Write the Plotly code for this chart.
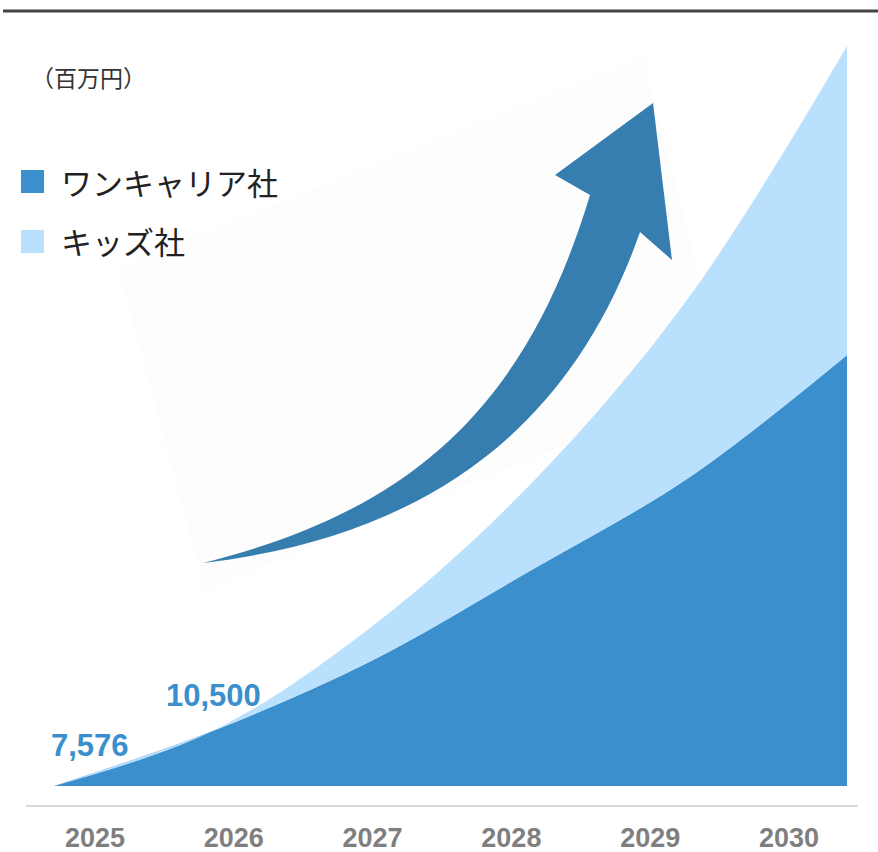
import plotly.graph_objects as go

# ---------------- data ----------------
years = ["2025", "2026", "2027", "2028", "2029", "2030"]
series_names = ["ワンキャリア社", "キッズ社"]
onecareer = [0, 550, 1250, 2150, 3080, 4310]      # lower (dark) area
kids = [0, 0, 340, 860, 1800, 3090]               # stacked (light) area
value_labels = ["7,576", "10,500"]                # labels for first two years
unit_label = "（百万円）"

DARK = "#3b8fcc"
LIGHT = "#b9e0fd"
ARROW = "#367db0"

W, H = 878, 852
ML, MR, MT, MB = 54, 31, 46, 66
PW, PH = W - ML - MR, H - MT - MB


def px(x, y):
    """pixel -> paper coordinates (for decorative shapes only)"""
    return (x - ML) / PW, (H - MB - y) / PH


def P(x, y):
    a = px(x, y)
    return f"{a[0]:.4f},{a[1]:.4f}"


idx = list(range(len(years)))

fig = go.Figure()
fig.add_trace(go.Scatter(
    x=idx, y=onecareer, name=series_names[0], stackgroup="one",
    mode="lines", line=dict(width=0, shape="spline", smoothing=1.0),
    fillcolor=DARK, hoverinfo="skip", showlegend=False))
fig.add_trace(go.Scatter(
    x=idx, y=kids, name=series_names[1], stackgroup="one",
    mode="lines", line=dict(width=0, shape="spline", smoothing=1.0),
    fillcolor=LIGHT, hoverinfo="skip", showlegend=False))
# carrier trace for the year axis
fig.add_trace(go.Scatter(
    x=years, y=[0] * len(years), xaxis="x2", mode="markers",
    marker=dict(opacity=0), hoverinfo="skip", showlegend=False))

shapes = []
# faint backdrop behind arrow
back = [(118, 268), (643, 58), (727, 381), (205, 590)]
shapes.append(dict(type="path", xref="paper", yref="paper", layer="below",
                   path="M" + " L".join(P(*p) for p in back) + " Z",
                   fillcolor="#fdfdfd", line=dict(width=0)))
# arrow (decorative)
tail = (203, 563)
notch_l, barb_l, tip, barb_r, notch_r = (590, 195), (555, 175), (653, 103), (672, 260), (640, 232)
arrow_path = (
    "M" + P(*tail)
    + " C" + P(403, 513) + " " + P(524, 415) + " " + P(*notch_l)
    + " L" + P(*barb_l) + " L" + P(*tip) + " L" + P(*barb_r) + " L" + P(*notch_r)
    + " C" + P(570, 432) + " " + P(423, 537) + " " + P(*tail) + " Z"
)
shapes.append(dict(type="path", xref="paper", yref="paper", layer="above",
                   path=arrow_path, fillcolor=ARROW, line=dict(width=0)))
# top rule
x0, y0 = px(3, 11)
x1, _ = px(878, 11)
shapes.append(dict(type="line", xref="paper", yref="paper", x0=x0, x1=x1, y0=y0, y1=y0,
                   line=dict(color="#444444", width=3)))
# baseline axis line
x0, y0 = px(26, 806)
x1, _ = px(858, 806)
shapes.append(dict(type="line", xref="paper", yref="paper", x0=x0, x1=x1, y0=y0, y1=y0,
                   line=dict(color="#d9d9d9", width=2)))
# legend swatches
for i, col in enumerate([DARK, LIGHT]):
    a = px(21, 170 + i * 60)
    b = px(44, 193 + i * 60)
    shapes.append(dict(type="rect", xref="paper", yref="paper",
                       x0=a[0], y0=b[1], x1=b[0], y1=a[1],
                       fillcolor=col, line=dict(width=0)))

annotations = []
for i, name in enumerate(series_names):
    a = px(59, 181 + i * 60)
    annotations.append(dict(xref="paper", yref="paper", x=a[0], y=a[1],
                            text=name, showarrow=False, xanchor="left", yanchor="middle",
                            font=dict(family="Noto Sans CJK JP", size=31, color="#222222")))
a = px(88, 77)
annotations.append(dict(xref="paper", yref="paper", x=a[0], y=a[1], text=unit_label,
                        showarrow=False, xanchor="center", yanchor="middle",
                        font=dict(family="Noto Sans CJK JP", size=23, color="#333333")))
# value labels on the first two points of the dark series
offsets = [(36, 41), (1, 36)]
for i, lab in enumerate(value_labels):
    annotations.append(dict(xref="x", yref="y", x=idx[i], y=onecareer[i] + kids[i],
                            text=lab, showarrow=False, xanchor="center", yanchor="middle",
                            xshift=offsets[i][0], yshift=offsets[i][1],
                            font=dict(family="Liberation Sans", size=31, color=DARK,
                                      weight="bold")))

fig.update_layout(
    width=W, height=H, margin=dict(l=ML, r=MR, t=MT, b=MB, autoexpand=False),
    paper_bgcolor="white", plot_bgcolor="white",
    xaxis=dict(range=[0, len(years) - 1], visible=False, fixedrange=True, automargin=False),
    xaxis2=dict(type="category", overlaying="x", anchor="y", side="bottom",
                range=[-0.295, 5.418], showgrid=False, zeroline=False, showline=False,
                ticks="outside", ticklen=28, tickcolor="rgba(0,0,0,0)", automargin=False,
                tickfont=dict(family="Liberation Sans", size=27, color="#7f7f7f",
                              weight="bold")),
    yaxis=dict(range=[0, 7400], visible=False, fixedrange=True, automargin=False),
    shapes=shapes, annotations=annotations, showlegend=False,
)

fig.write_html("out.html")
